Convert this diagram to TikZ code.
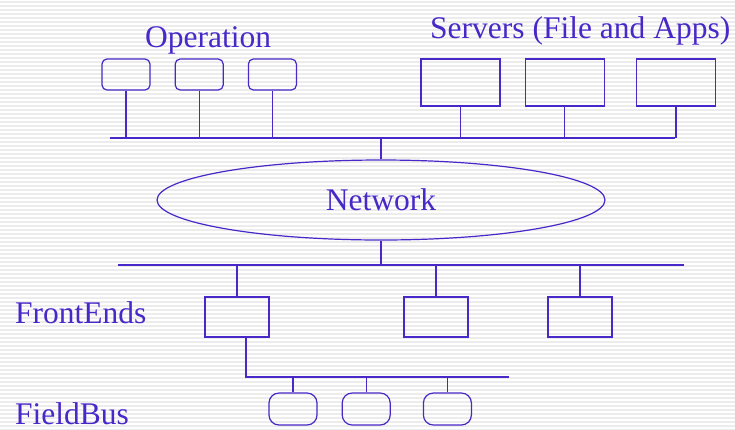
\documentclass[tikz,border=0pt]{standalone}
\usepackage{fontspec}
\setmainfont{Liberation Serif}
\usepackage{tikz}
\usetikzlibrary{shapes,positioning}
\definecolor{slide}{RGB}{72,40,200}
\definecolor{stripe}{RGB}{236,236,236}
\tikzstyle{wire}     = [draw=slide, line width=1.2pt]
\tikzstyle{station}  = [wire, rounded corners=5pt, minimum width=48pt, minimum height=31pt, inner sep=0pt]
\tikzstyle{server}   = [wire, minimum width=79pt, minimum height=47pt, inner sep=0pt]
\tikzstyle{frontend} = [wire, minimum width=64pt, minimum height=40pt, inner sep=0pt]
\tikzstyle{device}   = [wire, rounded corners=10pt, minimum width=48pt, minimum height=32pt, inner sep=0pt]
\tikzstyle{caption}  = [text=slide, font=\fontsize{31.5}{36}\selectfont, inner sep=0pt, anchor=base west]
\begin{document}
\begin{tikzpicture}[
      x=1pt, y=-1pt,
      node distance = 24pt
    ]
      \useasboundingbox (0,0) rectangle (735,429);
      % striped slide background
      \fill[white] (0,0) rectangle (735,429);
      \foreach \y in {1,5,...,429}
        \fill[stripe] (0,\y) rectangle (735,\y+2);

      \node[caption] (optext) at (145,47)  {Operation};
      \node[caption] (svtext) at (430,38)  {Servers (File and Apps)};
      \node[caption] (fetext) at (15,323)  {FrontEnds};
      \node[caption] (fbtext) at (15,424)  {FieldBus};

      \node[station] (op1) at (126,74.5)       {};
      \node[station] (op2) [right=of op1]      {};
      \node[station] (op3) [right=of op2]      {};
      \node[server]  (sv1) at (460.5,82.5)     {};
      \node[server]  (sv2) [right=of sv1]      {};
      \node[server]  (sv3) [right=31pt of sv2] {};

      \node[wire, ellipse, minimum width=448pt, minimum height=80pt,
            text=slide, font=\fontsize{31.5}{36}\selectfont]
                     (net) at (381,200)        {Network};

      \node[frontend] (fe1) at (237,317)       {};
      \node[frontend] (fe2) at (436,317)       {};
      \node[frontend] (fe3) at (580,317)       {};
      \node[device]   (fd1) at (293,409)       {};
      \node[device]   (fd2) [right=of fd1]     {};
      \node[device]   (fd3) [right=32pt of fd2] {};

      \coordinate (top west) at (110,138);
      \coordinate (top east) at (675,138);
      \coordinate (lan west) at (118,265);
      \coordinate (lan east) at (684,265);
      \coordinate (bus west) at (246,377);
      \coordinate (bus east) at (509,377);

      % upper bus
      \draw[wire] (top west) -- (top east);
      \draw[wire] (op1) -- (op1 |- top west);
      \draw[wire] (op2) -- (op2 |- top west);
      \draw[wire] (op3) -- (op3 |- top west);
      \draw[wire] (sv1) -- (sv1 |- top west);
      \draw[wire] (sv2) -- (sv2 |- top west);
      \draw[wire] (sv3) -- (sv3 |- top west);
      \draw[wire] (net) -- (net |- top west);

      % lower bus
      \draw[wire] (lan west) -- (lan east);
      \draw[wire] (net) -- (net |- lan west);
      \draw[wire] (fe1) -- (fe1 |- lan west);
      \draw[wire] (fe2) -- (fe2 |- lan west);
      \draw[wire] (fe3) -- (fe3 |- lan west);

      % field bus
      \draw[wire] (bus west |- fe1.south) -- (bus west) -- (bus east);
      \draw[wire] (fd1) -- (fd1 |- bus west);
      \draw[wire] (fd2) -- (fd2 |- bus west);
      \draw[wire] (fd3) -- (fd3 |- bus west);
    \end{tikzpicture}
\end{document}
